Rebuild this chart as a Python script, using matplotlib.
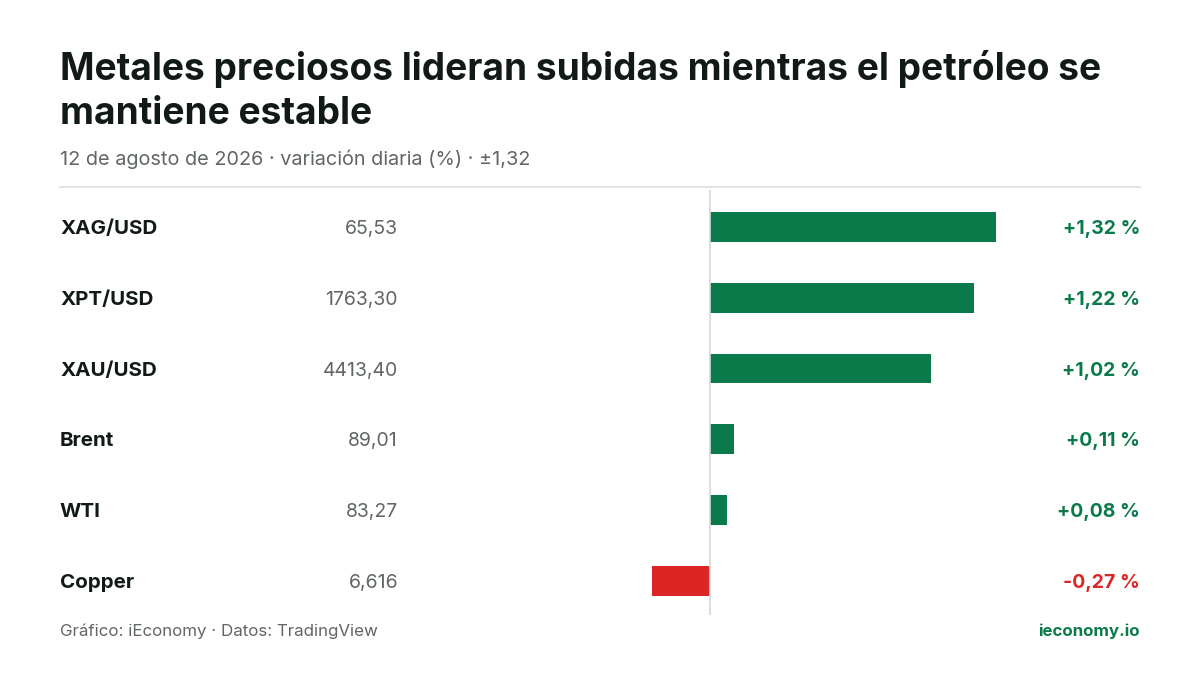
import matplotlib
matplotlib.use("Agg")
import matplotlib.pyplot as plt
import matplotlib.transforms as mtransforms

plt.rcParams['font.family'] = ['Inter', 'DejaVu Sans']

# Data
symbols = ['XAG/USD', 'XPT/USD', 'XAU/USD', 'Brent', 'WTI', 'Copper']
prices = ['65,53', '1763,30', '4413,40', '89,01', '83,27', '6,616']
changes = [1.32, 1.22, 1.02, 0.11, 0.08, -0.27]
change_labels = ['+1,32 %', '+1,22 %', '+1,02 %', '+0,11 %', '+0,08 %', '-0,27 %']

green = '#0b7a4b'
red = '#dc2626'
dark = '#111a17'
gray = '#606664'

fig = plt.figure(figsize=(12, 6.75), dpi=100)
W, H = 1200, 675

fig.text(60 / W, 1 - 69 / H, 'Metales preciosos lideran subidas mientras el petróleo se',
         fontsize=26.7, fontweight='bold', color=dark, va='center')
fig.text(60 / W, 1 - 114 / H, 'mantiene estable',
         fontsize=26.7, fontweight='bold', color=dark, va='center')
fig.text(60 / W, 1 - 159 / H, '12 de agosto de 2026 · variación diaria (%) · ±1,32',
         fontsize=14.3, color=gray, va='center')
fig.add_artist(plt.Line2D([60 / W, 1140 / W], [1 - 187 / H] * 2, color='#dcdfde', lw=1.2))

ax = fig.add_axes([60 / W, 1 - 615 / H, 1080 / W, 425 / H])
ppu = 286 / 1.32
ax.set_xlim((60 - 710) / ppu, (1140 - 710) / ppu)
ax.set_ylim(5.48, -0.52)
ax.axis('off')

ypos = list(range(len(symbols)))
colors = [green if c >= 0 else red for c in changes]
ax.barh(ypos, changes, height=0.42, color=colors)
ax.axvline(0, color='#d5d8d7', lw=1.2)

tr = mtransforms.blended_transform_factory(ax.transAxes, ax.transData)
off = 0.03
for y, s, p, lab, c in zip(ypos, symbols, prices, change_labels, colors):
    ax.text(0, y + off, s, transform=tr, fontsize=14.8, fontweight='bold', color=dark, va='center', ha='left')
    ax.text((398 - 60) / 1080, y + off, p, transform=tr, fontsize=14, color=gray, va='center', ha='right')
    ax.text(1, y + off, lab, transform=tr, fontsize=14, fontweight='bold', color=c, va='center', ha='right')

fig.text(60 / W, 1 - 631 / H, 'Gráfico: iEconomy · Datos: TradingView', fontsize=12.2, color=gray, va='center')
fig.text(1140 / W, 1 - 631 / H, 'ieconomy.io', fontsize=12.2, fontweight='bold', color=green, va='center', ha='right')

fig.savefig('out.png', dpi=100, facecolor='white')
